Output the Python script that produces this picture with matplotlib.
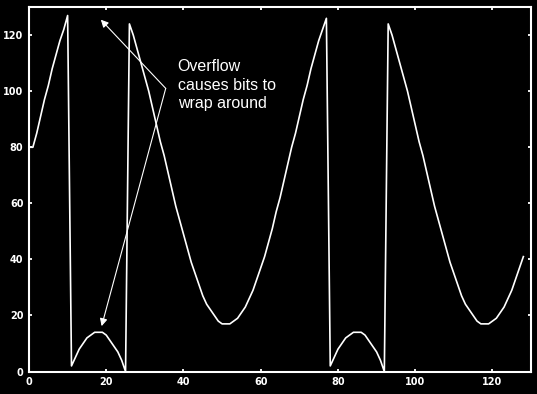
import matplotlib
matplotlib.use('Agg')
import matplotlib.pyplot as plt

# sample index and stored (wrapped) value
x_vals = list(range(129))
y_vals = [
    80, 80, 85, 91, 97, 102, 108, 113, 118, 122, 127,
    2, 5, 8, 10, 12, 13, 14, 14, 14, 13, 11, 9, 7, 4, 0,
    124, 120, 115, 110, 105, 100, 94, 88, 82, 77, 71, 65, 59, 54, 49,
    44, 39, 35, 31, 27, 24, 22, 20, 18, 17, 17, 17, 18, 19, 21, 23,
    26, 29, 33, 37, 41, 46, 51, 57, 62, 68, 74,
    80, 85, 91, 97, 102, 108, 113, 118, 122, 126,
    2, 5, 8, 10, 12, 13, 14, 14, 14, 13, 11, 9, 7, 4, 0,
    124, 120, 115, 110, 105, 100, 94, 88, 82, 77, 71, 65, 59, 54, 49,
    44, 39, 35, 31, 27, 24, 22, 20, 18, 17, 17, 17, 18, 19, 21, 23,
    26, 29, 33, 37, 41,
]
ticks = [0, 20, 40, 60, 80, 100, 120]

note_text = 'Overflow\ncauses bits to\nwrap around'
note_from = (35.4, 101)
note_to = [(18.6, 125.5), (18.8, 16.2)]

fig = plt.figure(figsize=(5.37, 3.94), dpi=100, facecolor='black')
ax = fig.add_axes([0.054, 0.057, 0.935, 0.925], facecolor='black')

ax.plot(x_vals, y_vals, color='white', linewidth=1.2)

ax.set_xlim(0, 130)
ax.set_ylim(0, 130)
ax.set_xticks(ticks)
ax.set_yticks(ticks)
ax.tick_params(direction='in', length=2.5, width=1.3, colors='white',
               top=True, right=True, labelsize=7, pad=4)
for lab in ax.get_xticklabels() + ax.get_yticklabels():
    lab.set_fontweight('bold')
for sp in ax.spines.values():
    sp.set_color('white')
    sp.set_linewidth(1.5)

ax.text(38.5, 111.5, note_text, color='white', fontsize=11.5,
        family='Liberation Sans', va='top', ha='left', linespacing=1.3)

for tgt in note_to:
    ax.annotate('', xy=tgt, xytext=note_from,
                arrowprops=dict(arrowstyle='-|>', color='white', lw=0.8,
                                mutation_scale=11, shrinkA=0, shrinkB=0))

fig.savefig('out.png', dpi=100, facecolor='black')
